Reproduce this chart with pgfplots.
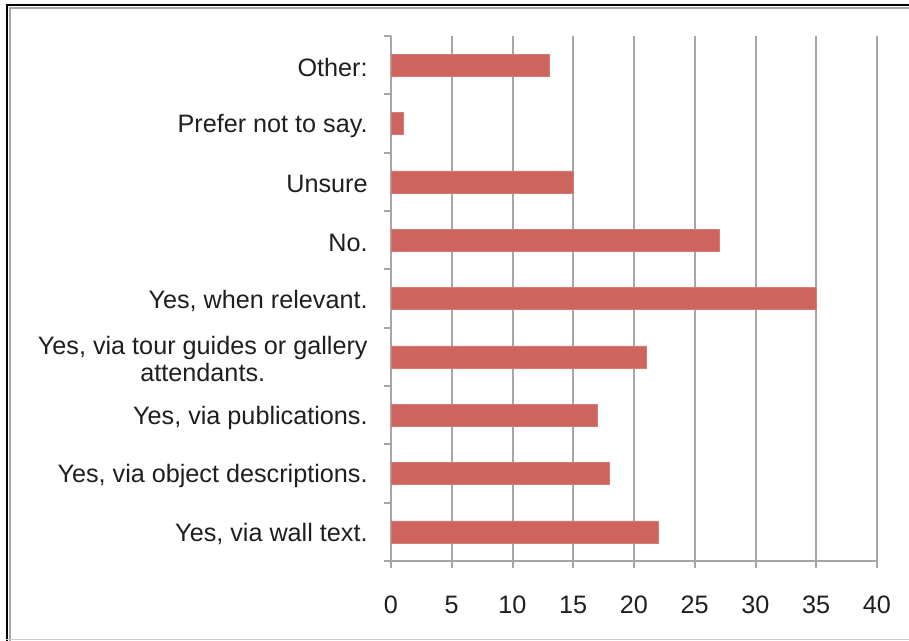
\documentclass[border=0pt]{standalone}
\usepackage{pgfplots}
\pgfplotsset{compat=1.18}
\usepackage{fontspec}
\setmainfont{Liberation Sans}
\definecolor{barred}{RGB}{206,100,94}
\definecolor{gridgray}{RGB}{166,166,166}
\begin{document}
\begin{tikzpicture}[font=\fontsize{12.6bp}{13.5bp}\selectfont]
\path[use as bounding box] (0,0) rectangle (454.5bp,320.5bp);
\fill[white] (0,0) rectangle (454.5bp,320.5bp);
\draw[black, line width=1.1bp] (3.6bp,0) -- (3.6bp,318bp) -- (454.5bp,318bp);
\draw[gridgray, line width=0.8bp] (5.1bp,0) -- (5.1bp,316.6bp) -- (454.5bp,316.6bp);
\draw[gridgray!60, line width=0.7bp] (3bp,0.8bp) -- (454.5bp,0.8bp);
\begin{axis}[
  at={(195.5bp,40bp)}, anchor=south west,
  scale only axis, width=243bp, height=262.5bp,
  xmin=0, xmax=40, ymin=-0.5, ymax=8.5,
  xbar, bar width=11bp,
  axis x line*=bottom, axis y line*=left,
  axis line style={-, gridgray, line width=1bp},
  xtick={0,5,...,40},
  ytick={0,...,8},
  minor ytick={-0.5,0.5,...,8.5},
  yticklabels={Yes{,} via wall text., Yes{,} via object descriptions., Yes{,} via publications., {Yes, via tour guides or gallery\\attendants.}, Yes{,} when relevant., No., Unsure, Prefer not to say., Other:},
  xmajorgrids, grid style={gridgray, line width=1bp},
  tick align=outside,
  major tick length=3.5bp, minor tick length=3.5bp,
  tick style={gridgray, line width=1bp},
  every major y tick/.style={draw=none},
  /pgf/number format/assume math mode=true,
  ticklabel style={font=\fontsize{12.6bp}{13.5bp}\selectfont, text=black!88},
  yticklabel style={align=center, anchor=east, inner sep=0pt, xshift=-8bp, yshift=-1.2bp},
  xticklabel style={anchor=north, inner sep=0pt, yshift=-14bp},
  clip=false,
]
\addplot[fill=barred, draw=barred!85!white, line width=0.3bp] coordinates {
  (22,0) (18,1) (17,2) (21,3) (35,4) (27,5) (15,6) (1,7) (13,8)
};
\end{axis}
\end{tikzpicture}
\end{document}
